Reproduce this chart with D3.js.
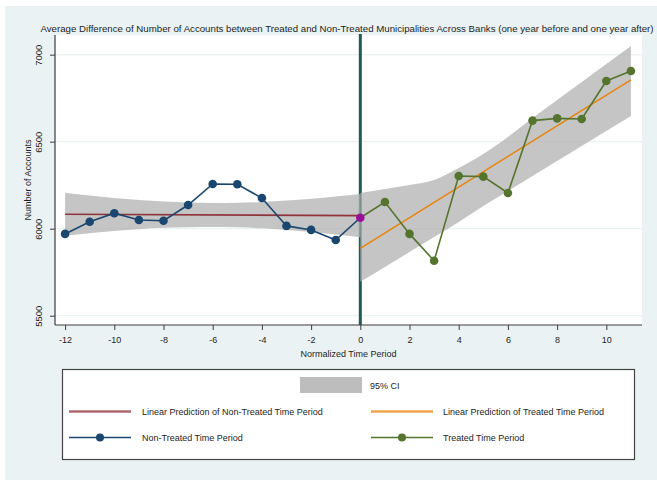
<!DOCTYPE html>
<html>
<head>
<meta charset="utf-8">
<script src="https://cdn.jsdelivr.net/npm/d3@7"></script>
<style>
  html, body { margin: 0; padding: 0; background: #ffffff; }
  svg { display: block; font-family: "Liberation Sans", Arial, sans-serif; }
</style>
</head>
<body>
<svg id="chart" width="657" height="480"></svg>
<script>
// ---------- data ----------
const titleText = "Average Difference of Number of Accounts between Treated and Non-Treated Municipalities Across Banks (one year before and one year after)";
const xTicks = [-12, -10, -8, -6, -4, -2, 0, 2, 4, 6, 8, 10];
const yTicks = [5500, 6000, 6500, 7000];

const nonTreatedX = [-12, -11, -10, -9, -8, -7, -6, -5, -4, -3, -2, -1, 0];
const nonTreatedY = [5970, 6040, 6089, 6050, 6046, 6136, 6257, 6255, 6176, 6016, 5993, 5935, 6063];

const treatedX = [0, 1, 2, 3, 4, 5, 6, 7, 8, 9, 10, 11];
const treatedY = [6063, 6153, 5970, 5816, 6303, 6299, 6205, 6621, 6634, 6630, 6849, 6906];

const nonTreatedFitX = [-12, 0];
const nonTreatedFitY = [6083, 6075];
const treatedFitX = [0, 11];
const treatedFitY = [5887, 6855];

const ciNonTreatedUpper = [6207, 6191, 6176, 6165, 6156, 6151, 6148, 6149, 6153, 6162, 6172, 6185, 6199];
const ciNonTreatedLower = [5959, 5974, 5987, 5997, 6005, 6008, 6010, 6008, 6002, 5992, 5981, 5966, 5951];
const ciTreatedUpper = [6205, 6228, 6251, 6280, 6349, 6429, 6527, 6636, 6739, 6843, 6946, 7050];
const ciTreatedLower = [5695, 5780, 5866, 5952, 6039, 6131, 6217, 6303, 6389, 6475, 6561, 6648];

const legendLabels = {
  ci: "95% CI",
  fitNon: "Linear Prediction of Non-Treated Time Period",
  fitTr: "Linear Prediction of Treated Time Period",
  non: "Non-Treated Time Period",
  tr: "Treated Time Period"
};

// ---------- styles ----------
const C = {
  bg: "#eaf2f3",
  grid: "#eaf2f3",
  axis: "#3c3c3c",
  text: "#1e1e1e",
  navy: "#1a476f",
  green: "#55752f",
  maroon: "#90353b",
  orange: "#e8850f",
  purple: "#990f99",
  teal: "#1c5c52",
  band: "#b2b2b2"
};

const svg = d3.select("#chart");
const W = 657, H = 480;
const plot = { left: 55, right: 642, top: 35, bottom: 325 };

const x = d3.scaleLinear().domain([-12.41, 11.45]).range([plot.left, plot.right]);
const y = d3.scaleLinear().domain([5446.6, 7113]).range([plot.bottom, plot.top]);

// background
svg.append("rect").attr("x", 5).attr("y", 6).attr("width", W - 5).attr("height", H - 6).attr("fill", C.bg);
svg.append("rect").attr("x", plot.left).attr("y", plot.top)
  .attr("width", plot.right - plot.left).attr("height", plot.bottom - plot.top).attr("fill", "#ffffff");

// gridlines
svg.append("g").selectAll("line").data(yTicks).join("line")
  .attr("x1", plot.left).attr("x2", plot.right)
  .attr("y1", d => y(d)).attr("y2", d => y(d))
  .attr("stroke", C.grid).attr("stroke-width", 1.2);

// vertical line at 0
svg.append("line")
  .attr("x1", x(0)).attr("x2", x(0)).attr("y1", plot.top - 1).attr("y2", plot.bottom)
  .attr("stroke", C.teal).attr("stroke-width", 3);

// CI bands
const area = d3.area().x(d => x(d.x)).y0(d => y(d.lo)).y1(d => y(d.hi)).curve(d3.curveMonotoneX);
const bandNon = nonTreatedX.map((v, i) => ({ x: v, lo: ciNonTreatedLower[i], hi: ciNonTreatedUpper[i] }));
const bandTr = treatedX.map((v, i) => ({ x: v, lo: ciTreatedLower[i], hi: ciTreatedUpper[i] }));
[bandNon, bandTr].forEach(b => {
  svg.append("path").datum(b).attr("d", area).attr("fill", C.band).attr("fill-opacity", 0.75);
});

// fit lines
const line = d3.line().x(d => x(d[0])).y(d => y(d[1]));
svg.append("path").datum(nonTreatedFitX.map((v, i) => [v, nonTreatedFitY[i]]))
  .attr("d", line).attr("fill", "none").attr("stroke", C.maroon).attr("stroke-width", 1.6);
svg.append("path").datum(treatedFitX.map((v, i) => [v, treatedFitY[i]]))
  .attr("d", line).attr("fill", "none").attr("stroke", C.orange).attr("stroke-width", 1.6);

// data lines
const nonPts = nonTreatedX.map((v, i) => [v, nonTreatedY[i]]);
const trPts = treatedX.map((v, i) => [v, treatedY[i]]);
svg.append("path").datum(nonPts).attr("d", line).attr("fill", "none").attr("stroke", C.navy).attr("stroke-width", 1.6);
svg.append("path").datum(trPts).attr("d", line).attr("fill", "none").attr("stroke", C.green).attr("stroke-width", 1.6);

svg.append("g").selectAll("circle").data(trPts.slice(1)).join("circle")
  .attr("cx", d => x(d[0])).attr("cy", d => y(d[1])).attr("r", 4.3).attr("fill", C.green);
svg.append("g").selectAll("circle").data(nonPts.slice(0, -1)).join("circle")
  .attr("cx", d => x(d[0])).attr("cy", d => y(d[1])).attr("r", 4.3).attr("fill", C.navy);
svg.append("circle").attr("cx", x(nonPts[nonPts.length - 1][0])).attr("cy", y(nonPts[nonPts.length - 1][1]))
  .attr("r", 4.3).attr("fill", C.purple);

// axes
const xAxis = d3.axisBottom(x).tickValues(xTicks).tickSize(5).tickPadding(7).tickFormat(d3.format("d"));
const gx = svg.append("g").attr("transform", `translate(0,${plot.bottom})`).call(xAxis);
gx.select(".domain").attr("stroke", C.axis).attr("stroke-width", 1.2).attr("d", `M${plot.left},0H${plot.right}`);
gx.selectAll(".tick line").attr("stroke", C.axis);
gx.selectAll(".tick text").attr("fill", C.text).attr("font-size", 9).attr("font-family", "Liberation Sans, Arial, sans-serif")
  .text(d => d < 0 ? "-" + Math.abs(d) : d);

const yAxis = d3.axisLeft(y).tickValues(yTicks).tickSize(5).tickFormat(d3.format("d"));
const gy = svg.append("g").attr("transform", `translate(${plot.left},0)`).call(yAxis);
gy.select(".domain").attr("stroke", C.axis).attr("stroke-width", 1.2).attr("d", `M0,${plot.top}V${plot.bottom}`);
gy.selectAll(".tick line").attr("stroke", C.axis);
gy.selectAll(".tick text").attr("fill", C.text).attr("font-size", 9.5).attr("font-family", "Liberation Sans, Arial, sans-serif")
  .attr("x", null).attr("dy", null)
  .attr("text-anchor", "middle")
  .attr("transform", "translate(-16,0) rotate(-90)")
  .attr("y", 0).attr("dy", "0.35em");

// axis titles
svg.append("text").attr("x", (plot.left + plot.right) / 2).attr("y", 357)
  .attr("text-anchor", "middle").attr("font-size", 9).attr("fill", C.text).text("Normalized Time Period");
svg.append("text").attr("transform", `translate(31,${(plot.top + plot.bottom) / 2}) rotate(-90)`)
  .attr("text-anchor", "middle").attr("font-size", 9).attr("fill", C.text).text("Number of Accounts");

// title
svg.append("text").attr("x", 40.5).attr("y", 32)
  .attr("font-size", 9).attr("fill", C.text)
  .attr("textLength", 613).attr("lengthAdjust", "spacingAndGlyphs")
  .text(titleText);

// legend
const lg = svg.append("g");
lg.append("rect").attr("x", 62.5).attr("y", 369.5).attr("width", 572).attr("height", 90)
  .attr("fill", "#ffffff").attr("stroke", "#444444").attr("stroke-width", 1.2);
lg.append("rect").attr("x", 300).attr("y", 377).attr("width", 62).attr("height", 16).attr("fill", C.band).attr("fill-opacity", 0.85);
lg.append("text").attr("x", 370).attr("y", 389).attr("font-size", 9).attr("fill", C.text).text(legendLabels.ci);

const rows = [
  { x1: 69, x2: 131, tx: 142, yy: 411.5, color: C.maroon, marker: false, label: legendLabels.fitNon, w: 2.4 },
  { x1: 371, x2: 433, tx: 443, yy: 411.5, color: C.orange, marker: false, label: legendLabels.fitTr, w: 2.4 },
  { x1: 69, x2: 131, tx: 142, yy: 437.5, color: C.navy, marker: true, label: legendLabels.non, w: 1.6 },
  { x1: 371, x2: 433, tx: 443, yy: 437.5, color: C.green, marker: true, label: legendLabels.tr, w: 1.6 }
];
rows.forEach(r => {
  lg.append("line").attr("x1", r.x1).attr("x2", r.x2).attr("y1", r.yy).attr("y2", r.yy)
    .attr("stroke", r.color).attr("stroke-width", r.w).attr("stroke-opacity", r.marker ? 1 : 0.75);
  if (r.marker) lg.append("circle").attr("cx", (r.x1 + r.x2) / 2).attr("cy", r.yy).attr("r", 4).attr("fill", r.color);
  lg.append("text").attr("x", r.tx).attr("y", r.yy + 3.2).attr("font-size", 9).attr("fill", C.text).text(r.label);
});
</script>
</body>
</html>
